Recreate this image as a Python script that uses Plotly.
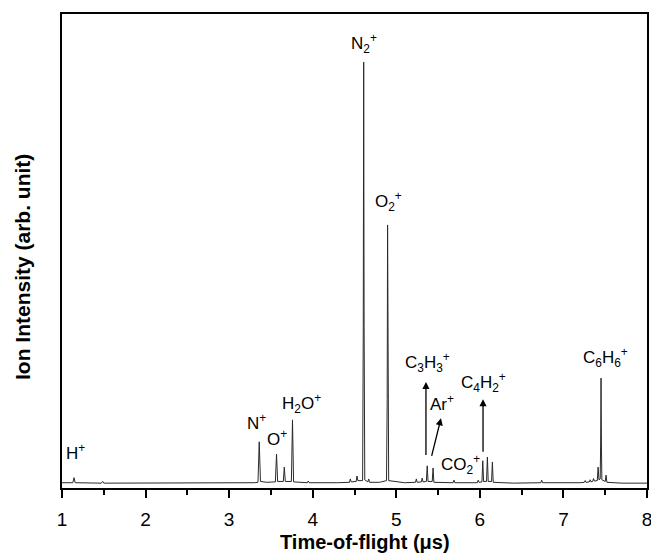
import plotly.graph_objects as go

# Time-of-flight (µs) and ion intensity (arb. unit, N2+ = 100)
tof = [1.00, 1.13, 1.144, 1.158, 1.47, 1.487, 1.50, 2.20, 2.80, 3.30,
       3.345, 3.36, 3.375, 3.45, 3.553, 3.567, 3.58, 3.648, 3.66, 3.672,
       3.745, 3.758, 3.771, 3.935, 3.946, 3.958, 4.30, 4.44, 4.45, 4.46,
       4.52, 4.53, 4.54, 4.597, 4.605, 4.610, 4.615, 4.623, 4.66, 4.67,
       4.68, 4.80, 4.883, 4.891, 4.896, 4.901, 4.909, 5.10, 5.23, 5.24,
       5.25, 5.30, 5.31, 5.32, 5.36, 5.37, 5.38, 5.43, 5.44, 5.45,
       5.68, 5.69, 5.70, 5.97, 5.98, 5.99, 6.025, 6.035, 6.045, 6.08,
       6.09, 6.10, 6.14, 6.15, 6.16, 6.40, 6.73, 6.74, 6.75, 7.20,
       7.25, 7.26, 7.27, 7.31, 7.32, 7.33, 7.35, 7.36, 7.37, 7.405,
       7.415, 7.425, 7.44, 7.445, 7.45, 7.455, 7.46, 7.50, 7.51, 7.52,
       7.70, 8.00]
intensity = [0.3, 0.3, 1.5, 0.3, 0.2, 0.6, 0.2, 0.2, 0.3, 0.3,
             0.4, 10.0, 0.6, 0.4, 0.5, 7.1, 0.6, 0.6, 4.0, 0.6,
             0.6, 15.2, 0.5, 0.3, 0.7, 0.3, 0.3, 0.4, 1.2, 0.5,
             0.6, 1.9, 0.8, 0.8, 37.0, 100.0, 37.0, 1.0, 0.5, 1.2,
             0.4, 0.4, 0.8, 20.0, 61.4, 20.0, 0.8, 0.3, 0.4, 1.2,
             0.4, 0.5, 1.4, 0.5, 0.6, 4.3, 0.6, 0.6, 3.8, 0.4,
             0.3, 0.9, 0.3, 0.3, 0.9, 0.4, 0.5, 5.5, 0.6, 0.6,
             6.4, 0.6, 0.6, 5.2, 0.4, 0.2, 0.3, 0.9, 0.3, 0.3,
             0.4, 0.8, 0.4, 0.5, 1.0, 0.5, 0.6, 1.3, 0.7, 0.8,
             4.0, 1.0, 1.2, 9.0, 25.1, 9.0, 1.0, 0.6, 2.1, 0.4,
             0.2, 0.2]

# Peak labels
label_text = ["H<sup>+</sup>", "N<sup>+</sup>", "O<sup>+</sup>", "H<sub>2</sub>O<sup>+</sup>",
              "N<sub>2</sub><sup>+</sup>", "O<sub>2</sub><sup>+</sup>",
              "C<sub>3</sub>H<sub>3</sub><sup>+</sup>", "Ar<sup>+</sup>",
              "CO<sub>2</sub><sup>+</sup>", "C<sub>4</sub>H<sub>2</sub><sup>+</sup>",
              "C<sub>6</sub>H<sub>6</sub><sup>+</sup>"]
label_x = [1.156, 3.332, 3.578, 3.862, 4.608, 4.908, 5.37, 5.547, 5.766, 6.046, 7.503]
label_y = [7.6, 14.8, 10.8, 19.0, 104.4, 66.9, 28.7, 19.1, 4.7, 24.1, 29.9]

# Arrows: tail (x0, y0) -> head (x1, y1)
arrow_x0 = [5.355, 5.419, 6.038]
arrow_y0 = [6.5, 6.3, 7.3]
arrow_x1 = [5.355, 5.535, 6.038]
arrow_y1 = [24.2, 15.6, 20.1]

x_title = "Time-of-flight (μs)"
y_title = "Ion Intensity (arb. unit)"

FONT = "Liberation Sans, Arial"
ML, MR, MT, MB = 62, 4, 14, 67
W, H = 651, 555
plot_w = W - ML - MR
plot_h = H - MT - MB

fig = go.Figure()
fig.add_trace(go.Scatter(x=tof, y=intensity, mode="lines",
                         line=dict(color="#2a2a2a", width=1), showlegend=False,
                         hoverinfo="skip"))

for t, lx, ly in zip(label_text, label_x, label_y):
    fig.add_annotation(x=lx, y=ly, xref="x", yref="y", text=t, showarrow=False,
                       font=dict(family=FONT, size=17, color="black"))

for x0, y0, x1, y1 in zip(arrow_x0, arrow_y0, arrow_x1, arrow_y1):
    fig.add_annotation(x=x1, y=y1, ax=x0, ay=y0, xref="x", yref="y", axref="x", ayref="y",
                       text="", showarrow=True, arrowhead=2, arrowsize=1.1,
                       arrowwidth=1.3, arrowcolor="black")

# axis titles placed relative to the plot area
fig.add_annotation(x=(365 - ML) / plot_w, y=-(542 - (H - MB)) / plot_h,
                   xref="paper", yref="paper", text="<b>" + x_title + "</b>",
                   showarrow=False, yanchor="middle", xanchor="center",
                   font=dict(family=FONT, size=20, color="black"))
fig.add_annotation(x=-(ML - 22) / plot_w, y=1 - (267 - MT) / plot_h,
                   xref="paper", yref="paper", text="<b>" + y_title + "</b>",
                   showarrow=False, textangle=-90, xanchor="center", yanchor="middle",
                   font=dict(family=FONT, size=21, color="black"))

fig.update_layout(
    width=W, height=H,
    margin=dict(l=ML, r=MR, t=MT, b=MB, autoexpand=False),
    paper_bgcolor="white", plot_bgcolor="white",
    font=dict(family=FONT, color="black"),
)
fig.update_xaxes(range=[1, 8], dtick=1, tick0=1, automargin=False,
                 showline=True, linecolor="black", linewidth=2, mirror=True,
                 ticks="outside", ticklen=8, tickwidth=2, tickcolor="black",
                 minor=dict(dtick=0.5, ticks="outside", ticklen=5, tickwidth=1.5, tickcolor="black"),
                 showgrid=False, zeroline=False, ticklabeloverflow="allow",
                 tickfont=dict(size=19), ticklabelstandoff=5)
fig.update_yaxes(range=[-0.95, 111.4], showticklabels=False, ticks="", automargin=False,
                 showline=True, linecolor="black", linewidth=2, mirror=True,
                 showgrid=False, zeroline=False)

fig.write_html("out.html", config={"displayModeBar": False},
               post_script="document.body.style.margin='0';document.body.style.overflow='hidden';")
